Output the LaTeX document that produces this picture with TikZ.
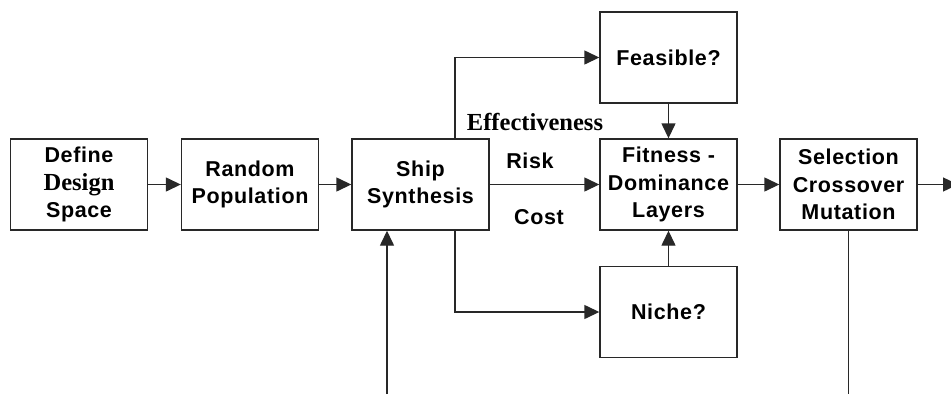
\documentclass[tikz,border=0pt]{standalone}
\usepackage{fontspec}
\setmainfont{Liberation Sans}[LetterSpace=3]
\newfontfamily\serifbold{Liberation Serif}[BoldFont={* Bold}]
\usetikzlibrary{arrows.meta}
\definecolor{linegray}{RGB}{40,40,40}
\tikzset{
  blk/.style={draw=linegray, line width=1.4pt, minimum width=137pt, minimum height=91pt,
    inner sep=0pt, align=center, font=\fontsize{21.5}{27.5}\selectfont\bfseries},
  arr/.style={draw=linegray, line width=1.4pt, -{Triangle[length=15pt,width=14pt]}},
  ln/.style={draw=linegray, line width=1.4pt},
  lbl/.style={inner sep=0pt, font=\fontsize{21.5}{24}\selectfont\bfseries},
  serifsz/.style={font=\fontsize{24.5}{27}\selectfont\serifbold\bfseries},
}
\begin{document}
\begin{tikzpicture}[x=1pt,y=-1pt]
  \clip (0,0) rectangle (951,394);
  \fill[white] (0,0) rectangle (951,394);

  % main chain of blocks
  \node[blk] (def)   at (79,184.5)    {Define\\{\fontsize{24.5}{27.5}\selectfont\serifbold\bfseries Design}\\Space};
  \node[blk] (rnd)   at (250,184.5)   {Random\\Population};
  \node[blk] (ship)  at (420.5,184.5) {Ship\\Synthesis};
  \node[blk] (fit)   at (668.5,184.5) {Fitness -\\Dominance\\Layers};
  \node[blk] (sel)   at (848.5,184.5) {Selection\\Crossover\\Mutation};
  \node[blk] (feas)  at (668.5,57.5)  {Feasible?};
  \node[blk] (niche) at (668.5,312)   {Niche?};

  % labels on the synthesis outputs
  \node[lbl,serifsz] (eff)  at (535,122) {Effectiveness};
  \node[lbl] (risk) at (530,161) {Risk};
  \node[lbl] (cost) at (539,217) {Cost};

  % free ends of the loop connectors
  \coordinate (fbin)  at (387,394);
  \coordinate (selout) at (848.5,394);
  \coordinate (next)  at (958,184.5);

  % connectors
  \draw[arr] (def.east) -- (rnd.west);
  \draw[arr] (rnd.east) -- (ship.west);
  \draw[arr] (ship.east) -- (fit.west);
  \draw[arr] (fit.east) -- (sel.west);
  \draw[arr] (sel.east) -- (next);
  \draw[arr] ([xshift=34.5pt]ship.north) |- (feas.west);
  \draw[arr] ([xshift=34.5pt]ship.south) |- (niche.west);
  \draw[arr] (feas.south) -- (fit.north);
  \draw[arr] (niche.north) -- (fit.south);
  \draw[arr] (fbin) -- (fbin |- ship.south);
  \draw[ln] (sel.south) -- (selout);
\end{tikzpicture}
\end{document}
